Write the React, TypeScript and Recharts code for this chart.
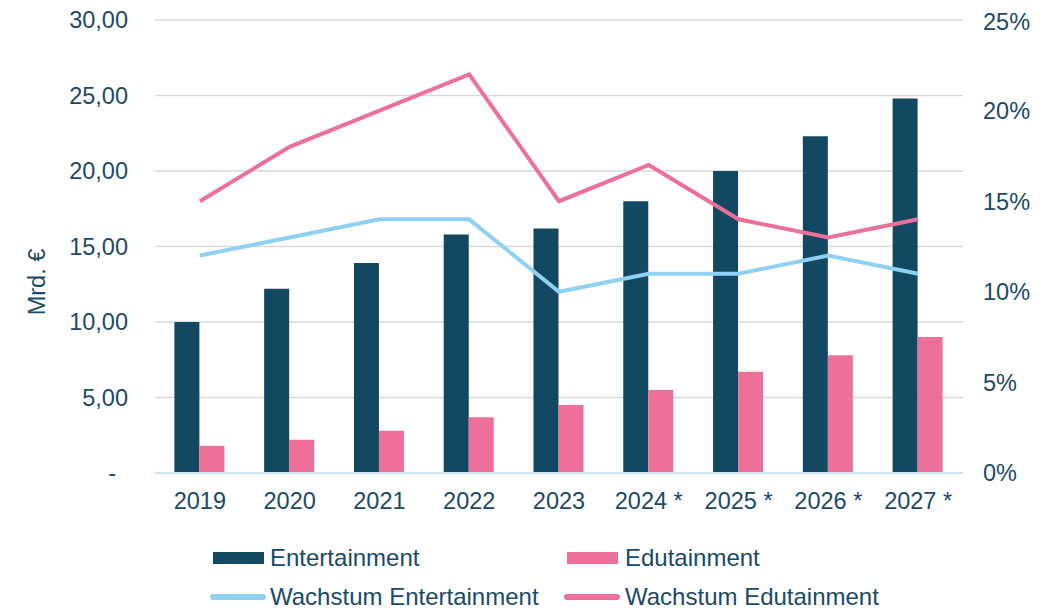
import React from 'react';
import { ComposedChart, Bar, Line, XAxis, YAxis, CartesianGrid, Legend, Label } from 'recharts';

const categories = ['2019', '2020', '2021', '2022', '2023', '2024 *', '2025 *', '2026 *', '2027 *'];
const entertainment = [10.0, 12.2, 13.9, 15.8, 16.2, 18.0, 20.0, 22.3, 24.8];
const edutainment = [1.8, 2.2, 2.8, 3.7, 4.5, 5.5, 6.7, 7.8, 9.0];
const wachstumEntertainment = [12, 13, 14, 14, 10, 11, 11, 12, 11];
const wachstumEdutainment = [15, 18, 20, 22, 15, 17, 14, 13, 14];
const leftTicks = [0, 5, 10, 15, 20, 25, 30];
const rightTicks = [0, 5, 10, 15, 20, 25];

const data = categories.map((c, i) => ({
  name: c,
  ent: entertainment[i],
  edu: edutainment[i],
  wEnt: wachstumEntertainment[i],
  wEdu: wachstumEdutainment[i],
}));

const TXT = '#1a4a66';
const DARK = '#134862';
const PINK = '#ec7098';
const LIGHT = '#8ed1f3';
const FONT = '"Liberation Sans", Arial, sans-serif';
const FS = 23.5;

const LeftTick = (props: any) => {
  const { x, y, payload } = props;
  const v = payload.value;
  const label = v === 0 ? '-' : v.toFixed(2).replace('.', ',');
  return (
    <text x={v === 0 ? x - 12 : x} y={y} dy="0.355em" textAnchor="end" fill={TXT} fontSize={FS} fontFamily={FONT}>
      {label}
    </text>
  );
};

const legendItems = [
  { label: 'Entertainment', color: DARK, type: 'rect', col: 0, row: 0 },
  { label: 'Edutainment', color: PINK, type: 'rect', col: 1, row: 0 },
  { label: 'Wachstum Entertainment', color: LIGHT, type: 'line', col: 0, row: 1 },
  { label: 'Wachstum Edutainment', color: PINK, type: 'line', col: 1, row: 1 },
];

const LegendContent = () => (
  <div style={{ position: 'relative', width: 1050, height: 80, fontFamily: FONT, fontSize: 24, color: TXT }}>
    {legendItems.map((it) => {
      const iconLeft = it.col === 0 ? 204 : 558;
      const textLeft = it.col === 0 ? 262 : 617;
      const cy = it.row === 0 ? 20 : 59;
      return (
        <React.Fragment key={it.label}>
          {it.type === 'rect' ? (
            <div style={{ position: 'absolute', left: iconLeft + 1, top: cy - 6, width: 51, height: 12, background: it.color }} />
          ) : (
            <div style={{ position: 'absolute', left: iconLeft - 2, top: cy - 3, width: 56, height: 6, borderRadius: 3, background: it.color }} />
          )}
          <div style={{ position: 'absolute', left: textLeft, top: cy - 14, lineHeight: '28px', whiteSpace: 'nowrap' }}>{it.label}</div>
        </React.Fragment>
      );
    })}
  </div>
);

export default function App() {
  return (
    <div style={{ width: 1050, height: 600 }}>
      <ComposedChart
        width={1050}
        height={600}
        data={data}
        margin={{ top: 12, right: 0, left: 0, bottom: 15 }}
        barCategoryGap="21.6%"
        barGap={0}
      >
        <CartesianGrid vertical={false} stroke="#d9d9d9" strokeWidth={1.5} yAxisId="left" />
        <XAxis
          dataKey="name"
          height={40}
          tickLine={false}
          tickSize={0}
          tickMargin={19}
          axisLine={{ stroke: '#cce5f3', strokeWidth: 2 }}
          tick={{ fill: TXT, fontSize: FS, fontFamily: FONT }}
          interval={0}
        />
        <YAxis
          yAxisId="left"
          width={147}
          domain={[0, 30]}
          ticks={leftTicks}
          axisLine={false}
          tickLine={false}
          tickSize={0}
          tickMargin={27}
          tick={<LeftTick />}
        >
          <Label
            content={() => (
              <text
                x={29}
                y={274}
                transform="rotate(-90 29 274)"
                textAnchor="middle"
                dominantBaseline="central"
                fill={TXT}
                fontSize={FS}
                fontFamily={FONT}
              >
                Mrd. €
              </text>
            )}
          />
        </YAxis>
        <YAxis
          yAxisId="right"
          orientation="right"
          width={95}
          domain={[0, 25]}
          ticks={rightTicks}
          axisLine={false}
          tickLine={false}
          tickSize={0}
          tickMargin={20}
          tickFormatter={(v: number) => `${v}%`}
          tick={{ fill: TXT, fontSize: FS, fontFamily: FONT, textAnchor: 'start' }}
        />
        <Bar yAxisId="left" dataKey="ent" name="Entertainment" fill={DARK} isAnimationActive={false} />
        <Bar yAxisId="left" dataKey="edu" name="Edutainment" fill={PINK} isAnimationActive={false} />
        <Line yAxisId="right" type="linear" dataKey="wEnt" name="Wachstum Entertainment" stroke={LIGHT} strokeWidth={4} dot={false} activeDot={false} isAnimationActive={false} />
        <Line yAxisId="right" type="linear" dataKey="wEdu" name="Wachstum Edutainment" stroke={PINK} strokeWidth={4} dot={false} activeDot={false} isAnimationActive={false} />
        <Legend
          content={<LegendContent />}
          wrapperStyle={{ position: 'absolute', left: 0, top: 530, width: 1050, height: 80 }}
        />
      </ComposedChart>
    </div>
  );
}
